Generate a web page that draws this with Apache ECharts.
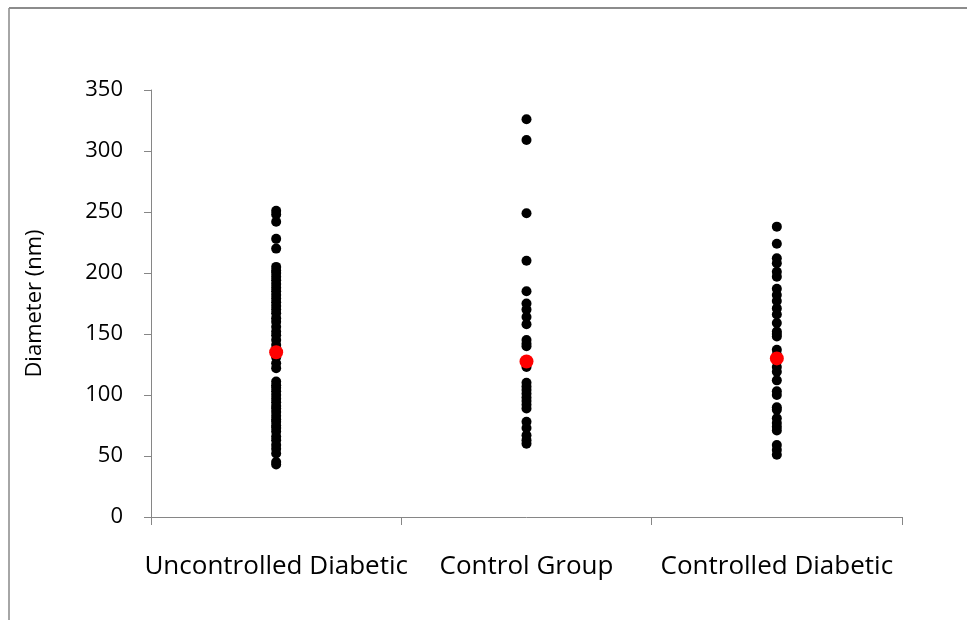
<!DOCTYPE html>
<html><head><meta charset="utf-8">
<script src="https://cdn.jsdelivr.net/npm/echarts@6/dist/echarts.min.js"></script>
<style>html,body{margin:0;padding:0;background:#fff}#c{width:967px;height:620px}</style>
</head><body><div id="c"></div>
<script>
var categories = ['Uncontrolled Diabetic', 'Control Group', 'Controlled Diabetic'];
var uncontrolled = [251, 248, 242, 228, 220, 205, 202, 200, 197, 194, 191, 188, 185, 182, 179, 176, 173, 170, 167, 163, 160, 156, 152, 149, 145, 141, 137, 131, 126, 122, 111, 108, 106, 103, 100, 97, 94, 91, 89, 86, 83, 80, 78, 75, 73, 70, 66, 63, 59, 56, 52, 45, 43];
var controlGroup = [326, 309, 249, 210, 185, 175, 170, 164, 158, 145, 140, 142, 123, 110, 107, 104, 101, 98, 95, 92, 89, 78, 73, 67, 63, 60];
var controlled = [238, 224, 212, 208, 201, 197, 187, 182, 177, 171, 166, 159, 152, 148, 150, 137, 133, 123, 119, 112, 103, 100, 90, 88, 81, 77, 74, 71, 59, 55, 51];
var means = [135, 127.5, 130];
var yTicks = [0, 50, 100, 150, 200, 250, 300, 350];

function pts(idx, arr) { return arr.map(function (v) { return [idx, v]; }); }
var chart = echarts.init(document.getElementById('c'));
var font = 'Open Sans';
chart.setOption({
  animation: false,
  backgroundColor: '#fff',
  graphic: [
    { type: 'line', shape: { x1: 9, y1: 8, x2: 9, y2: 620 }, style: { stroke: '#a6a6a6', lineWidth: 2 } },
    { type: 'line', shape: { x1: 9, y1: 8, x2: 967, y2: 8 }, style: { stroke: '#8c8c8c', lineWidth: 2 } }
  ],
  grid: { left: 151, right: 65, top: 90, bottom: 103, containLabel: false },
  xAxis: {
    type: 'category', data: categories, boundaryGap: true,
    axisLine: { lineStyle: { color: '#868686', width: 1 } },
    axisTick: { show: true, length: 8, interval: 0, alignWithLabel: false, lineStyle: { color: '#868686' } },
    axisLabel: { color: '#000', fontFamily: font, fontSize: 26, margin: 37, interval: 0 },
    splitLine: { show: false }
  },
  yAxis: {
    type: 'value', min: yTicks[0], max: yTicks[yTicks.length - 1], interval: 50,
    name: 'Diameter (nm)', nameLocation: 'middle', nameGap: 105, nameRotate: 90,
    nameTextStyle: { color: '#000', fontFamily: font, fontSize: 22 },
    axisLine: { show: true, lineStyle: { color: '#868686', width: 1 } },
    axisTick: { show: true, length: 7, lineStyle: { color: '#868686' } },
    axisLabel: { color: '#000', fontFamily: font, fontSize: 22, margin: 28 },
    splitLine: { show: false }
  },
  series: [
    { type: 'scatter', symbolSize: 10, itemStyle: { color: '#000', opacity: 1 }, data: pts(0, uncontrolled).concat(pts(1, controlGroup), pts(2, controlled)) },
    { type: 'scatter', symbolSize: 14, itemStyle: { color: '#ff0000', opacity: 1 }, data: means.map(function (v, i) { return [i, v]; }), z: 3 }
  ]
});
</script></body></html>
